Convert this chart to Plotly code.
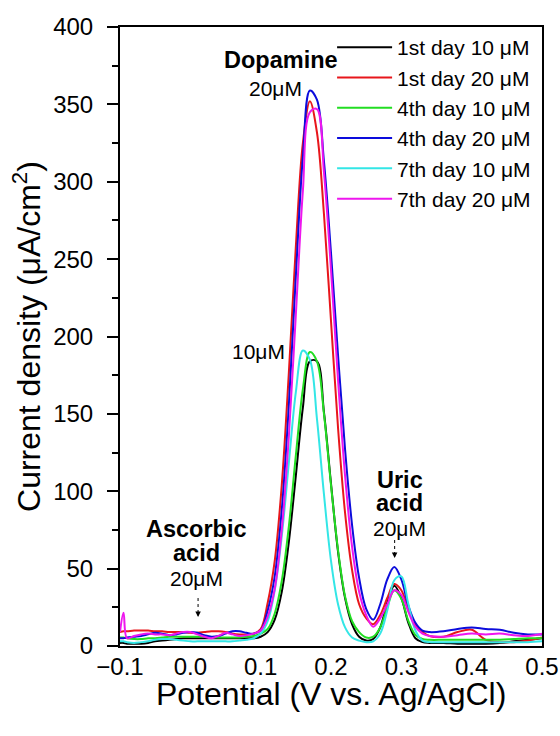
import plotly.graph_objects as go

# Potential axis (V vs. Ag/AgCl)
potential = [-0.100, -0.095, -0.090, -0.080, -0.070, -0.060, -0.050, -0.040, -0.030, -0.020,
             -0.010, 0.000, 0.010, 0.020, 0.030, 0.040, 0.050, 0.060, 0.070, 0.080,
             0.090, 0.100, 0.110, 0.120, 0.130, 0.140, 0.150, 0.160, 0.170, 0.180,
             0.190, 0.200, 0.210, 0.220, 0.230, 0.240, 0.250, 0.260, 0.270, 0.280,
             0.290, 0.300, 0.310, 0.320, 0.330, 0.340, 0.360, 0.380, 0.400, 0.420,
             0.440, 0.460, 0.480, 0.500]

# Current density (uA/cm2)
day1_10uM = [2, 2, 1.5, 1.5, 1.5, 2, 3, 3.5, 4, 4.5, 5, 5, 5, 5, 5, 5, 5, 5, 5, 5, 5, 6,
             9, 17, 35, 67, 110, 154, 184, 184, 151, 105, 61, 31, 14, 6, 3.5, 4.5, 12, 28,
             39, 31, 15, 5, 2.5, 2,
             2, 1.5, 1.5, 1.5, 2, 3, 4, 5]
day1_20uM = [9, 9.5, 9.5, 10, 10, 10, 9.5, 9.5, 9, 9, 9, 8.5, 8.5, 9, 9.5, 9.5, 9, 8, 7.5, 7.5, 8, 11,
             28, 55, 104, 176, 258, 325, 352, 332, 279, 210, 141, 86, 49, 27, 18, 14, 20, 31,
             40, 36, 23.5, 13.5, 9, 6.5,
             6, 9, 10.5, 4, 2.5, 2.5, 3.5, 5.5]
day4_10uM = [5.5, 5.5, 5, 4.5, 4.5, 5, 5, 5.5, 6, 6, 6, 6, 6, 6, 5.5, 5.5, 5.5, 5.5, 5.5, 6, 6.5, 8,
             11, 21, 42, 77, 123, 166, 190, 184, 150, 104, 62, 32, 16, 9, 5.5, 6, 12, 25,
             36, 30.5, 16.3, 7.2, 4.5, 4,
             4, 4, 4, 4, 4, 4.5, 5, 5]
day4_20uM = [5, 5, 5.5, 6, 6.5, 7.5, 8.5, 8, 7, 7.5, 8.5, 9, 8.5, 7, 6, 6.5, 8, 9.5, 9.5, 8.5, 8, 10,
             23, 45, 88, 155, 239, 316, 359, 353, 313, 254, 188, 127, 78, 44, 24, 17, 27, 43,
             51, 43, 26, 15, 10, 9,
             9.5, 11, 12, 11, 10.5, 8.5, 7.5, 7.5]
day7_10uM = [3, 3, 2.5, 2, 2.5, 3, 4, 4.5, 4.5, 4, 3.5, 3, 3, 3, 3, 3, 3, 3, 3.5, 4, 5, 8,
             16, 36, 71, 118, 164, 191, 185, 147, 98, 55, 27, 12, 5.5, 3.5, 2.5, 3, 8, 23,
             42.5, 45, 27, 10, 3.5, 2.5,
             2.5, 2.5, 2.5, 2.5, 2.5, 2.5, 2.5, 3]
day7_20uM = [9, 21.5, 5, 6.5, 7.5, 8, 7.5, 7.5, 7, 8, 9, 9, 7.5, 6, 5, 6.5, 8.5, 7.5, 6.5, 7, 8, 10,
             19, 37, 75, 135, 214, 294, 345, 347, 306, 243, 172, 110, 64, 35, 20, 12.5, 18, 27,
             36, 33, 22, 12.5, 8, 6.5,
             6, 7, 8, 7.5, 8, 7, 6.5, 8]

series_names = ["1st day 10 μM", "1st day 20 μM", "4th day 10 μM",
                "4th day 20 μM", "7th day 10 μM", "7th day 20 μM"]
series_values = [day1_10uM, day1_20uM, day4_10uM, day4_20uM, day7_10uM, day7_20uM]
series_colors = ["#000000", "#e8161b", "#22dd22", "#0c0cdc", "#33e6e6", "#ee16ee"]

x_ticks = [-0.1, 0.0, 0.1, 0.2, 0.3, 0.4, 0.5]

FONT = "Liberation Sans, Arial, Helvetica, sans-serif"

fig = go.Figure()
for name, vals, col in zip(series_names, series_values, series_colors):
    fig.add_trace(go.Scatter(
        x=potential, y=vals, mode="lines", name=name,
        line=dict(color=col, width=2, shape="spline", smoothing=1.0),
    ))

# Text labels
labels = [
    ("<b>Dopamine</b>", 0.129, 379, 23.5),
    ("20μM", 0.1207, 360, 21),
    ("10μM", 0.0966, 190, 21),
    ("<b>Ascorbic</b>", 0.0085, 75.5, 23.5),
    ("<b>acid</b>", 0.0085, 60, 23.5),
    ("20μM", 0.0085, 43.5, 21),
    ("<b>Uric</b>", 0.298, 107.5, 23.5),
    ("<b>acid</b>", 0.298, 92.4, 23.5),
    ("20μM", 0.298, 76, 21),
]
annotations = []
for txt, ax_, ay_, fs in labels:
    annotations.append(dict(text=txt, x=ax_, y=ay_, xref="x", yref="y", showarrow=False,
                            font=dict(family=FONT, size=fs, color="black"),
                            xanchor="center", yanchor="middle"))

# x-axis title
annotations.append(dict(text="Potential (V vs. Ag/AgCl)", x=0.5, y=-0.0775,
                        xref="paper", yref="paper", showarrow=False,
                        xanchor="center", yanchor="middle",
                        font=dict(family=FONT, size=32, color="black")))

# dotted arrows (x, y_start, y_tip)
arrows = [(0.011, 31, 18.7), (0.2905, 68.5, 56.8)]
shapes = []
for xa, y0, y1 in arrows:
    shapes.append(dict(type="line", xref="x", yref="y", x0=xa, x1=xa, y0=y0, y1=y1 + 2.5,
                       line=dict(color="black", width=1, dash="dot")))
    annotations.append(dict(text="", x=xa, y=y1, ax=xa, ay=y1 + 3.5, xref="x", yref="y",
                            axref="x", ayref="y", showarrow=True, arrowhead=2,
                            arrowsize=1.1, arrowwidth=1, arrowcolor="black"))

fig.update_layout(
    width=560, height=736,
    margin=dict(l=120, r=18, t=27, b=90),
    paper_bgcolor="white", plot_bgcolor="white",
    font=dict(family=FONT, color="black", size=24),
    showlegend=True,
    legend=dict(x=0.986, xanchor="right", y=1.0, yanchor="top",
                font=dict(family=FONT, size=21, color="black"),
                itemwidth=55,
                bgcolor="rgba(0,0,0,0)", borderwidth=0),
    annotations=annotations,
    shapes=shapes,
    xaxis=dict(range=[-0.1, 0.5], tickmode="array", tickvals=x_ticks, tickformat=".1f",
               ticks="", showline=True, linecolor="black", linewidth=2, mirror=True,
               showgrid=False, zeroline=False, tickfont=dict(size=24),
               ticklabelstandoff=-2, automargin=False),
    yaxis=dict(range=[0, 400], tick0=0, dtick=50, ticks="outside", ticklen=11, tickwidth=2,
               tickcolor="black",
               minor=dict(dtick=25, ticks="outside", ticklen=6, tickwidth=2, tickcolor="black"),
               showline=True, linecolor="black", linewidth=2, mirror=True,
               showgrid=False, zeroline=False, tickfont=dict(size=24),
               ticklabelstandoff=9, automargin=False,
               title=dict(text="Current density (μA/cm<sup>2</sup>)", font=dict(size=32), standoff=3)),
)

# remove the browser's default body margin so the 560x736 figure fills the window exactly
fig.write_html("out.html",
               config={"displayModeBar": False},
               post_script="document.body.style.margin='0';document.body.style.overflow='hidden';")
